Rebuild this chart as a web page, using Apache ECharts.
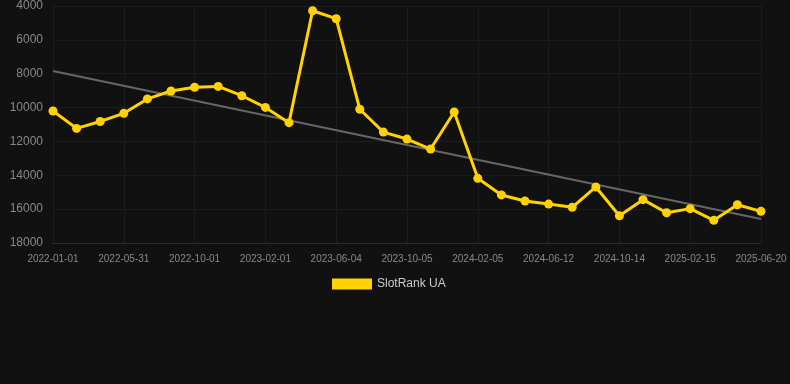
<!DOCTYPE html>
<html>
<head>
<meta charset="utf-8">
<script src="https://cdn.jsdelivr.net/npm/echarts@6/dist/echarts.min.js"></script>
<style>html,body{margin:0;padding:0;background:#111111;}#c{width:790px;height:384px;}</style>
</head>
<body>
<div id="c"></div>
<script>
var categories = [
  '2022-01-01','2022-02-18','2022-04-12','2022-05-31','2022-07-12','2022-08-22','2022-10-01','2022-11-10','2022-12-20',
  '2023-02-01','2023-03-12','2023-04-24','2023-06-04','2023-07-15','2023-08-26','2023-10-05','2023-11-15','2023-12-27',
  '2024-02-05','2024-03-20','2024-05-01','2024-06-12','2024-07-24','2024-09-02','2024-10-14','2024-11-24','2025-01-05',
  '2025-02-15','2025-03-30','2025-05-10','2025-06-20'
];
var rankValues = [
  10200, 11230, 10820, 10340, 9490, 9020, 8800, 8750, 9300, 9990, 10890,
  4280, 4750, 10100, 11450, 11860, 12450, 10260, 14180, 15160, 15520,
  15700, 15890, 14690, 16390, 15440, 16210, 15970, 16660, 15740, 16130
];
var trendValues = [7840, null, null, null, null, null, null, null, null, null, null,
  null, null, null, null, null, null, null, null, null, null,
  null, null, null, null, null, null, null, null, null, 16580];
var yTicks = [4000, 18000, 2000];

var chart = echarts.init(document.getElementById('c'));
chart.setOption({
  backgroundColor: '#111111',
  animation: false,
  grid: { left: 53, right: 29, top: 6, bottom: 141 },
  legend: {
    data: ['SlotRank UA'],
    left: 327, top: 273,
    itemWidth: 40, itemHeight: 11,
    icon: 'rect',
    itemGap: 6,
    textStyle: { color: '#cccccc', fontSize: 12, fontFamily: 'Liberation Sans, Arial, sans-serif' }
  },
  xAxis: {
    type: 'category',
    data: categories,
    boundaryGap: false,
    axisLine: { show: true, lineStyle: { color: '#2a2a2a' } },
    axisTick: { show: false },
    axisLabel: { interval: 2, color: '#888888', fontSize: 10, margin: 11, fontFamily: 'Liberation Sans, Arial, sans-serif' },
    splitLine: { show: true, interval: 2, lineStyle: { color: '#1c1c1c' } }
  },
  yAxis: {
    type: 'value',
    inverse: true,
    min: yTicks[0], max: yTicks[1], interval: yTicks[2],
    axisLine: { show: false },
    axisTick: { show: false },
    axisLabel: { color: '#888888', fontSize: 12, margin: 10, formatter: function (v) { return String(v); }, fontFamily: 'Liberation Sans, Arial, sans-serif' },
    splitLine: { show: true, lineStyle: { color: '#1c1c1c' } }
  },
  series: [
    {
      name: 'SlotRank UA',
      type: 'line',
      data: rankValues,
      color: '#FFD200',
      lineStyle: { width: 3, color: '#FFD200' },
      itemStyle: { color: '#FFD200' },
      symbol: 'circle',
      symbolSize: 9,
      z: 3
    },
    {
      name: 'trend',
      type: 'line',
      data: trendValues,
      connectNulls: true,
      symbol: 'none',
      lineStyle: { width: 2, color: '#666666' },
      z: 2
    }
  ]
});
</script>
</body>
</html>
